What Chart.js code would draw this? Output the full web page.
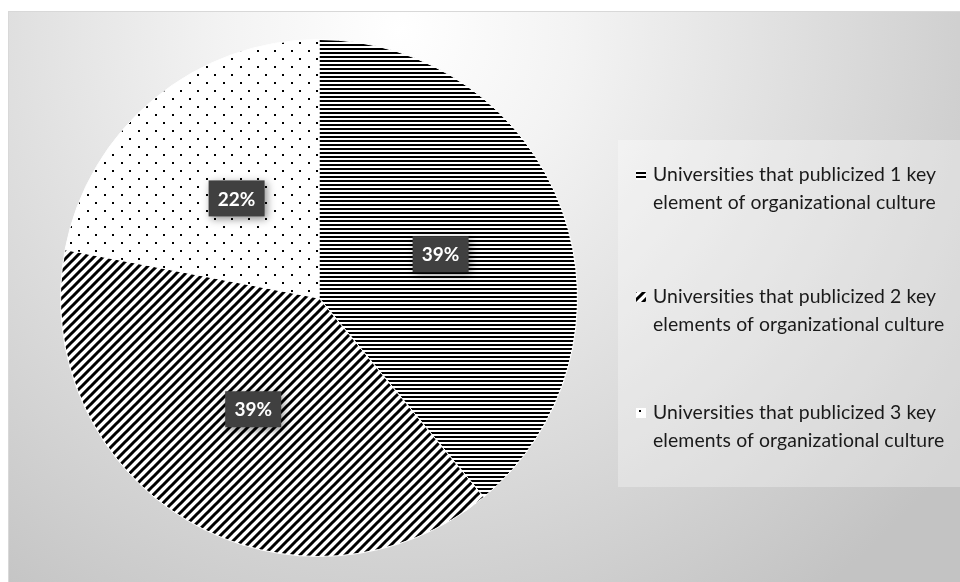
<!DOCTYPE html>
<html>
<head>
<meta charset="utf-8">
<script src="https://cdn.jsdelivr.net/npm/chart.js@4.4.1/dist/chart.umd.min.js"></script>
<style>
  html, body { margin: 0; padding: 0; background: #fff; }
  #wrap { width: 960px; height: 582px; }
</style>
</head>
<body>
<div id="wrap"><canvas id="myChart" width="960" height="582"></canvas></div>
<script>
// data
const categories = [
  ['Universities that publicized 1 key', 'element of organizational culture'],
  ['Universities that publicized 2 key', 'elements of organizational culture'],
  ['Universities that publicized 3 key', 'elements of organizational culture']
];
const shares = [39, 39, 22];

// fill patterns
function makePattern(kind) {
  const c = document.createElement('canvas');
  const g = c.getContext('2d');
  if (kind === 'hlines') {
    c.width = 4; c.height = 4;
    g.fillStyle = '#fff'; g.fillRect(0, 0, 4, 4);
    g.fillStyle = '#000'; g.fillRect(0, 0, 4, 2);
  } else if (kind === 'diag') {
    c.width = 9; c.height = 9;
    g.fillStyle = '#fff'; g.fillRect(0, 0, 9, 9);
    g.strokeStyle = '#000'; g.lineWidth = 3;
    g.beginPath();
    g.moveTo(-2, 11); g.lineTo(11, -2);
    g.moveTo(-11, 11); g.lineTo(2, -2);
    g.moveTo(7, 11); g.lineTo(20, -2);
    g.stroke();
  } else {
    c.width = 17; c.height = 16;
    g.fillStyle = '#fff'; g.fillRect(0, 0, 17, 16);
    g.fillStyle = '#000';
    g.fillRect(2, 2, 2, 2);
    g.fillRect(10, 10, 2, 2);
  }
  return document.createElement('canvas').getContext('2d').createPattern(c, 'repeat');
}
const fills = [makePattern('hlines'), makePattern('diag'), makePattern('dots')];

// background panel + legend box
const backdrop = {
  id: 'backdrop',
  beforeDraw(chart) {
    const ctx = chart.ctx;
    ctx.save();
    ctx.fillStyle = '#fff';
    ctx.fillRect(0, 0, chart.width, chart.height);
    const grad = ctx.createRadialGradient(400, 30, 0, 400, 30, 700);
    grad.addColorStop(0, '#ffffff');
    grad.addColorStop(0.25, '#f3f3f3');
    grad.addColorStop(1, '#c3c3c3');
    ctx.fillStyle = grad;
    ctx.fillRect(8, 11, chart.width - 8, chart.height - 11);
    ctx.strokeStyle = '#d8d8d8';
    ctx.lineWidth = 1;
    ctx.strokeRect(8.5, 11.5, chart.width - 8, chart.height - 11);
    ctx.fillStyle = 'rgba(255,255,255,0.3)';
    ctx.fillRect(618, 140, chart.width - 618, 347);
    ctx.restore();
  }
};

// percentage boxes + legend
const decor = {
  id: 'decor',
  afterDatasetsDraw(chart) {
    const ctx = chart.ctx;
    const meta = chart.getDatasetMeta(0);
    ctx.save();
    ctx.font = 'bold 19px Lato';
    ctx.textAlign = 'center';
    ctx.textBaseline = 'middle';
    meta.data.forEach((arc, i) => {
      const p = arc.getCenterPoint();
      ctx.save();
      ctx.shadowColor = 'rgba(0,0,0,0.45)';
      ctx.shadowBlur = 8;
      ctx.shadowOffsetX = 2;
      ctx.shadowOffsetY = 3;
      ctx.fillStyle = '#404040';
      ctx.fillRect(p.x - 28, p.y - 18, 56, 36);
      ctx.restore();
      ctx.fillStyle = '#fff';
      ctx.fillText(shares[i] + '%', p.x, p.y + 1);
    });

    // legend (tiny letter spacing keeps "ti" from turning into a ligature)
    ctx.textAlign = 'left';
    ctx.letterSpacing = '0.1px';
    let size = 18;
    ctx.font = size + 'px Lato';
    size = size * 284 / ctx.measureText(categories[0][0]).width;
    ctx.font = size.toFixed(1) + 'px Lato';
    const tops = [175, 297, 413];
    categories.forEach((lines, i) => {
      const y = tops[i];
      ctx.fillStyle = fills[i];
      ctx.fillRect(636, y - 5, 10, 10);
      ctx.fillStyle = '#1a1a1a';
      lines.forEach((t, j) => ctx.fillText(t, 653, y + j * 28));
    });
    ctx.restore();
  }
};

const config = {
  type: 'pie',
  data: {
    labels: categories,
    datasets: [{
      data: shares,
      backgroundColor: fills,
      borderColor: '#ffffff',
      borderWidth: 1
    }]
  },
  options: {
    responsive: false,
    animation: false,
    layout: { padding: { left: 60, top: 39, right: 382, bottom: 25 } },
    plugins: {
      legend: { display: false },
      tooltip: { enabled: false }
    }
  },
  plugins: [backdrop, decor]
};

const myChart = new Chart(document.getElementById('myChart'), config);
</script>
</body>
</html>
